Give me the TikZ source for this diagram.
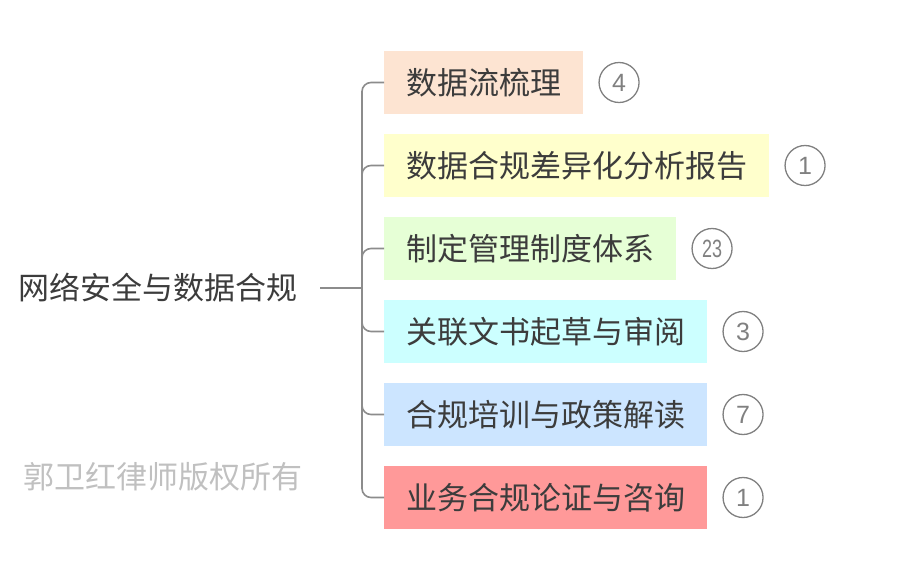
\documentclass[tikz,border=0pt]{standalone}
\usepackage{fontspec}
\setmainfont{Liberation Sans}
\newfontfamily\cjk{Noto Sans CJK SC}
\usepackage{tikz}
\usetikzlibrary{positioning, calc}

\definecolor{peach}{RGB}{253,228,210}
\definecolor{lemon}{RGB}{255,255,204}
\definecolor{mint}{RGB}{230,255,214}
\definecolor{aqua}{RGB}{204,255,255}
\definecolor{sky}{RGB}{204,229,255}
\definecolor{rose}{RGB}{255,153,153}
\definecolor{inkgray}{RGB}{60,60,60}
\definecolor{linegray}{RGB}{140,140,140}
\definecolor{badgegray}{RGB}{128,128,128}
\definecolor{markgray}{RGB}{192,192,192}

\begin{document}
\begin{tikzpicture}[
    x=1pt, y=-1pt,
    topic/.style={fill=#1, text=inkgray, font=\cjk\fontsize{31}{31}\selectfont,
        minimum height=63pt, inner xsep=22pt, inner ysep=0pt, anchor=west},
    badge/.style={circle, draw=badgegray, line width=1.3pt, text=badgegray,
        minimum size=40pt, inner sep=0pt, font=\fontsize{25}{25}\selectfont},
    branch/.style={draw=linegray, line width=1.6pt, rounded corners=9pt}
]
\useasboundingbox (0,0) rectangle (898,581);

% root and watermark
\node[anchor=west, inner sep=0pt, text=inkgray, font=\cjk\fontsize{31}{31}\selectfont] (root) at (18,288) {网络安全与数据合规};
\node[anchor=west, inner sep=0pt, text=markgray, font=\cjk\fontsize{31}{31}\selectfont] (mark) at (23,477) {郭卫红律师版权所有};
\coordinate (hub) at (362,288);

% topics
\node[topic=peach] (t1) at (384,82.5) {数据流梳理};
\node[topic=lemon] (t2) at (384,165.5) {数据合规差异化分析报告};
\node[topic=mint]  (t3) at (384,248.5) {制定管理制度体系};
\node[topic=aqua]  (t4) at (384,331.5) {关联文书起草与审阅};
\node[topic=sky]   (t5) at (384,414.5) {合规培训与政策解读};
\node[topic=rose]  (t6) at (384,497.5) {业务合规论证与咨询};

% counts
\node[badge, right=15pt of t1] (n1) {4};
\node[badge, right=15pt of t2] (n2) {1};
\node[badge, right=15pt of t3] (n3) {\scalebox{0.72}[1]{23}};
\node[badge, right=15pt of t4] (n4) {3};
\node[badge, right=15pt of t5] (n5) {7};
\node[badge, right=15pt of t6] (n6) {1};

% branches
\draw[branch, shorten <=23pt] (root.east) -- (hub);
\draw[branch] (hub) |- (t1.west);
\draw[branch] (hub) |- (t2.west);
\draw[branch] (hub) |- (t3.west);
\draw[branch] (hub) |- (t4.west);
\draw[branch] (hub) |- (t5.west);
\draw[branch] (hub) |- (t6.west);
\end{tikzpicture}
\end{document}
